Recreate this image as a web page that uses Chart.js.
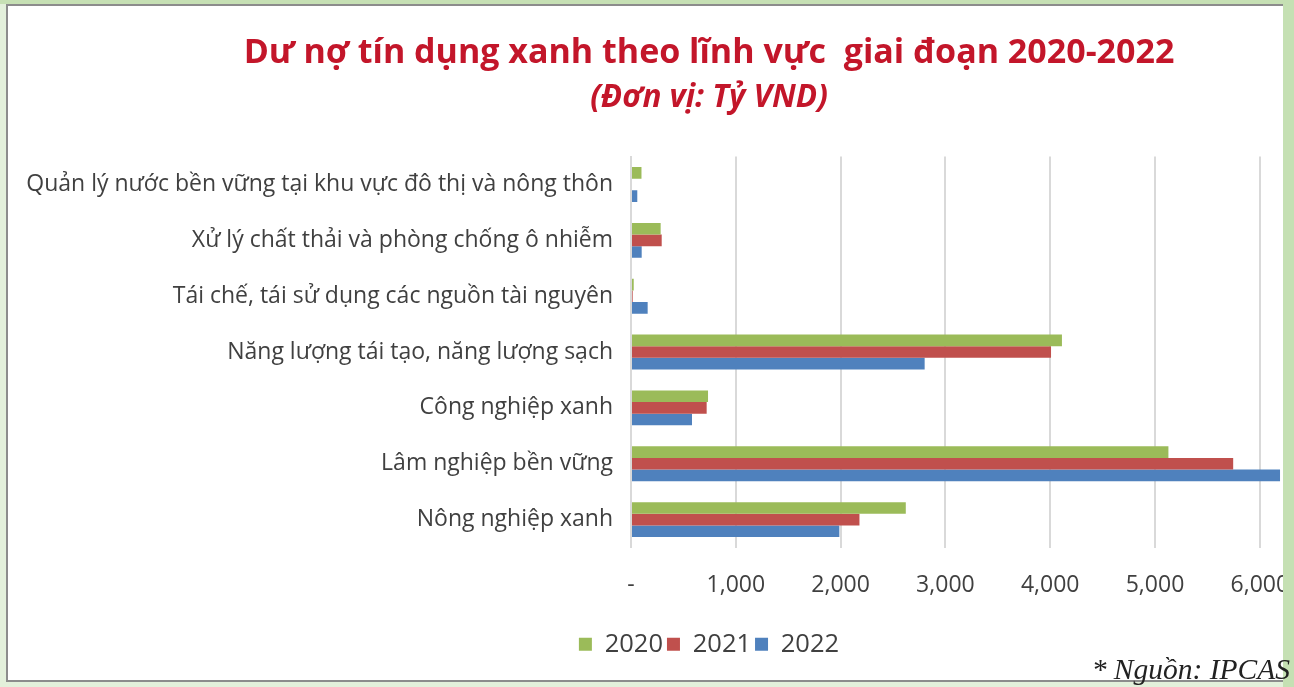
<!DOCTYPE html>
<html>
<head>
<meta charset="utf-8">
<script src="https://cdn.jsdelivr.net/npm/chart.js@4"></script>
<style>
  html, body { margin: 0; padding: 0; }
  body { width: 1294px; height: 687px; position: relative; overflow: hidden; background: #e3f0db; }
  .top-strip { position: absolute; left: 0; top: 0; width: 1294px; height: 4px; background: #c6e0b4; }
  .sheet { position: absolute; left: 6px; top: 4px; width: 1290px; height: 678px; background: #fff;
           border-left: 2px solid #8c8c8c; border-top: 2px solid #8c8c8c; border-bottom: 2px solid #8c8c8c; box-sizing: border-box; }
  .chart-box { position: absolute; left: 20px; top: 0; width: 1378px; height: 687px; }
  .right-strip { position: absolute; left: 1283px; top: 0; width: 11px; height: 687px; background: #c5e0b3; }
  .source { position: absolute; right: 4px; top: 653px; font-family: "Liberation Serif", serif; font-style: italic;
            font-size: 29.5px; color: #222; white-space: nowrap; }
</style>
</head>
<body>
<div class="top-strip"></div>
<div class="sheet"></div>
<div class="chart-box"><canvas id="greenCredit"></canvas></div>
<div class="right-strip"></div>
<div class="source">* Nguồn: IPCAS</div>
<script>
const categories = [
  'Quản lý nước bền vững tại khu vực đô thị và nông thôn',
  'Xử lý chất thải và phòng chống ô nhiễm',
  'Tái chế, tái sử dụng các nguồn tài nguyên',
  'Năng lượng tái tạo, năng lượng sạch',
  'Công nghiệp xanh',
  'Lâm nghiệp bền vững',
  'Nông nghiệp xanh'
];
const years = ['2020', '2021', '2022'];
const values2020 = [100, 283, 26, 4112, 735, 5128, 2622];
const values2021 = [0, 293, 16, 4008, 722, 5746, 2180];
const values2022 = [60, 102, 159, 2802, 582, 6193, 1988];
const colors = ['#9bbb59', '#c0504d', '#4f81bd'];

const textColor = '#404040';
const titleRed = '#c3162a';

new Chart(document.getElementById('greenCredit'), {
  type: 'bar',
  data: {
    labels: categories,
    datasets: [values2020, values2021, values2022].map((vals, i) => ({
      label: years[i],
      data: vals,
      backgroundColor: colors[i],
      borderWidth: 0,
      barPercentage: 1,
      categoryPercentage: 0.625
    }))
  },
  options: {
    indexAxis: 'y',
    responsive: true,
    maintainAspectRatio: false,
    animation: false,
    layout: { padding: { left: 0, right: 0, top: 0, bottom: 20 } },
    plugins: {
      title: {
        display: true,
        text: 'Dư nợ tín dụng xanh theo lĩnh vực  giai đoạn 2020-2022',
        color: titleRed,
        font: { family: 'Open Sans', size: 34, weight: 'bold' },
        padding: { top: 33, bottom: 5 }
      },
      subtitle: {
        display: true,
        text: '(Đơn vị: Tỷ VND)',
        color: titleRed,
        font: { family: 'Open Sans', size: 31.5, weight: 'bold', style: 'italic' },
        padding: { top: 0, bottom: 40 }
      },
      legend: {
        position: 'bottom',
        labels: {
          color: textColor,
          font: { family: 'Open Sans', size: 25.5 },
          boxWidth: 13,
          boxHeight: 13,
          padding: 4
        }
      },
      tooltip: { enabled: false }
    },
    scales: {
      x: {
        min: 0,
        max: 7000,
        ticks: {
          stepSize: 1000,
          color: textColor,
          font: { family: 'Open Sans', size: 23 },
          padding: 24,
          callback: (v) => v === 0 ? '-' : v.toLocaleString('en-US')
        },
        grid: { color: '#d9d9d9', lineWidth: 2, drawTicks: false },
        border: { display: false },
        afterFit: (scale) => {
          scale.height = 80;
          scale.paddingLeft = 0;
          scale.paddingRight = 33.4;
        }
      },
      y: {
        ticks: {
          color: textColor,
          font: { family: 'Open Sans', size: 23 },
          padding: 18
        },
        grid: { display: false, drawTicks: false },
        border: { color: '#d9d9d9', width: 2 },
        afterFit: (scale) => { scale.width = 611; }
      }
    }
  }
});
</script>
</body>
</html>
